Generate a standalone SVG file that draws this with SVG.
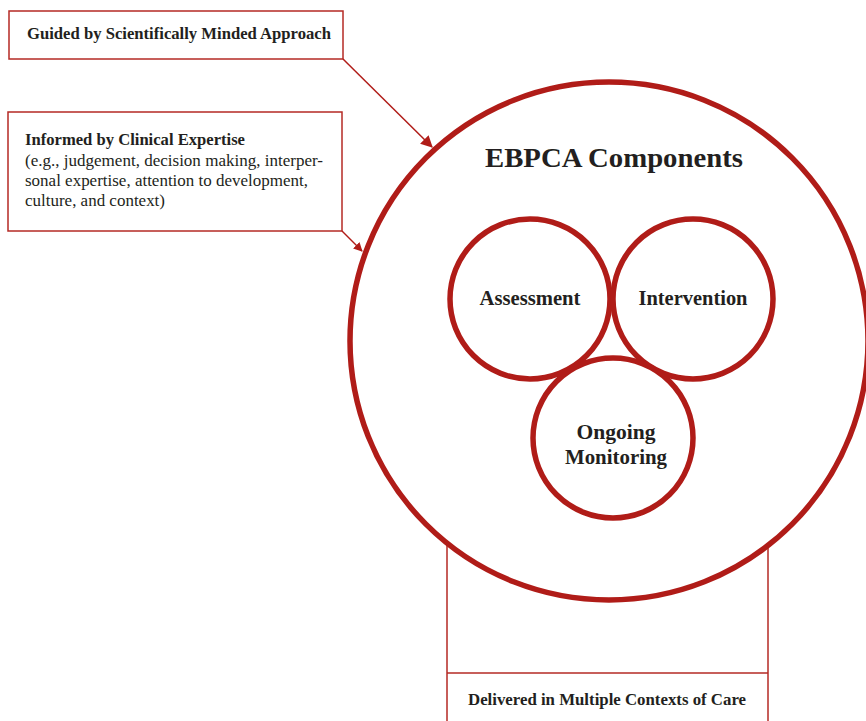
<svg xmlns="http://www.w3.org/2000/svg" width="866" height="721" viewBox="0 0 866 721">
<style>
.box{fill:#fff;stroke:#b52a25;stroke-width:1.5}
.ring{fill:#fff;stroke:#b01c18;stroke-width:5.5}
.conn{stroke:#b01c18;stroke-width:1.5;fill:none}
text{font-family:"Liberation Serif",serif;fill:#231f20}
.b{font-weight:bold}
</style>
<defs>
<marker id="ah" viewBox="0 0 10 10" refX="9" refY="5" markerWidth="12" markerHeight="12" markerUnits="userSpaceOnUse" orient="auto">
<path d="M0,0 L10,5 L0,10 z" fill="#b01c18"/>
</marker>
<marker id="ahs" viewBox="0 0 10 10" refX="9" refY="5" markerWidth="9" markerHeight="9" markerUnits="userSpaceOnUse" orient="auto">
<path d="M0,0 L10,5 L0,10 z" fill="#b01c18"/>
</marker>
</defs>
<rect width="866" height="721" fill="#fff"/>
<g id="delivered">
<rect class="box" x="447" y="520" width="321" height="215"/>
<line class="box" x1="447" y1="673" x2="768" y2="673"/>
<text class="b" x="607" y="705" font-size="16" text-anchor="middle" textLength="278" lengthAdjust="spacingAndGlyphs">Delivered in Multiple Contexts of Care</text>
</g>
<g id="ebpca">
<circle class="ring" cx="609" cy="341" r="259"/>
<text class="b" x="614" y="167" font-size="28" text-anchor="middle" textLength="258" lengthAdjust="spacingAndGlyphs">EBPCA Components</text>
</g>
<g id="assessment">
<circle class="ring" cx="530" cy="299" r="80"/>
<text class="b" x="530" y="305" font-size="20" text-anchor="middle" textLength="101" lengthAdjust="spacingAndGlyphs">Assessment</text>
</g>
<g id="intervention">
<circle class="ring" cx="693" cy="299" r="80"/>
<text class="b" x="693" y="305" font-size="20" text-anchor="middle" textLength="109" lengthAdjust="spacingAndGlyphs">Intervention</text>
</g>
<g id="monitoring">
<circle class="ring" cx="613" cy="438" r="80"/>
<text class="b" x="616" y="439" font-size="20" text-anchor="middle" textLength="79" lengthAdjust="spacingAndGlyphs">Ongoing</text>
<text class="b" x="616" y="464" font-size="20" text-anchor="middle" textLength="102" lengthAdjust="spacingAndGlyphs">Monitoring</text>
</g>
<g id="guided">
<rect class="box" x="9" y="11" width="334" height="48"/>
<text class="b" x="27" y="39" font-size="17" textLength="304" lengthAdjust="spacingAndGlyphs">Guided by Scientifically Minded Approach</text>
</g>
<g id="informed">
<rect class="box" x="8" y="112" width="334" height="119"/>
<text class="b" x="25" y="145" font-size="17" textLength="220" lengthAdjust="spacingAndGlyphs">Informed by Clinical Expertise</text>
<text x="25" y="166" font-size="16.5" textLength="298" lengthAdjust="spacingAndGlyphs">(e.g., judgement, decision making, interper-</text>
<text x="25" y="186" font-size="16.5" textLength="283" lengthAdjust="spacingAndGlyphs">sonal expertise, attention to development,</text>
<text x="25" y="206" font-size="16.5" textLength="140" lengthAdjust="spacingAndGlyphs">culture, and context)</text>
</g>
<g id="connectors">
<line class="conn" x1="343" y1="59" x2="432" y2="147" marker-end="url(#ah)"/>
<line class="conn" x1="342" y1="231" x2="362" y2="251" marker-end="url(#ahs)"/>
</g>
</svg>
